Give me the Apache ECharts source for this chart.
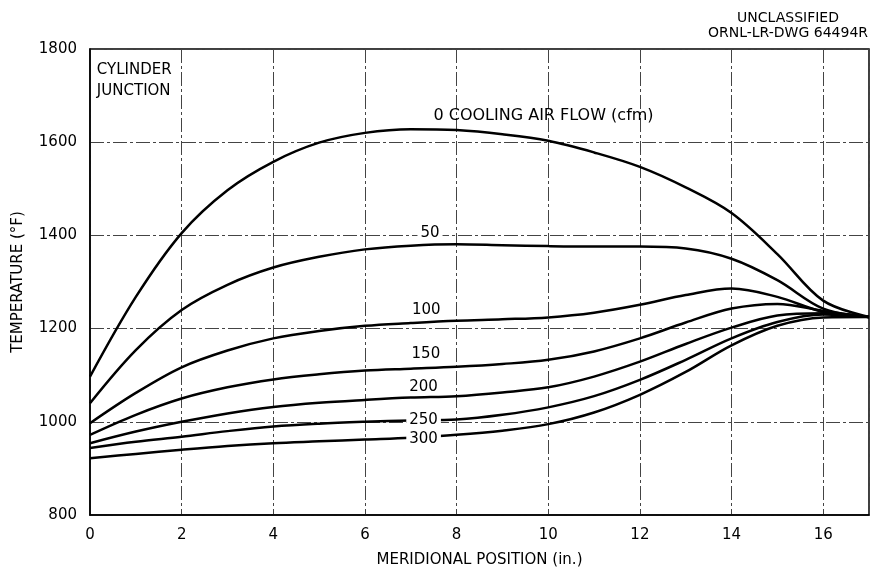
<!DOCTYPE html>
<html>
<head>
<meta charset="utf-8">
<title>Cylinder junction temperature</title>
<script src="https://cdn.jsdelivr.net/npm/echarts@6/dist/echarts.min.js"></script>
<style>
  html, body { margin: 0; padding: 0; background: #fff; }
  #chart { width: 885px; height: 573px; }
</style>
</head>
<body>
<div id="chart"></div>
<script>
// meridional position (in.)
var positions = [0, 1, 2, 3, 4, 5, 6, 7, 8, 9, 10, 11, 12, 13, 14, 15, 16, 17];

// temperature (F) for each cooling air flow (cfm)
var flow0   = [1097, 1268, 1405, 1497, 1558, 1599, 1620, 1628, 1626, 1617, 1603, 1578, 1547, 1503, 1448, 1360, 1260, 1225];
var flow50  = [1040, 1154, 1240, 1294, 1331, 1354, 1370, 1378, 1381, 1379, 1377, 1376, 1376, 1372, 1350, 1304, 1243, 1225];
var flow100 = [997, 1062, 1117, 1153, 1179, 1195, 1206, 1212, 1217, 1220, 1224, 1234, 1251, 1272, 1286, 1268, 1236, 1225];
var flow150 = [972, 1015, 1050, 1074, 1091, 1102, 1110, 1114, 1118, 1124, 1133, 1151, 1179, 1213, 1243, 1253, 1238, 1225];
var flow200 = [954, 979, 1000, 1018, 1032, 1041, 1047, 1052, 1055, 1063, 1074, 1097, 1129, 1167, 1202, 1228, 1233, 1225];
var flow250 = [944, 957, 968, 980, 990, 996, 1000, 1003, 1005, 1015, 1031, 1055, 1090, 1133, 1179, 1214, 1230, 1225];
var flow300 = [922, 931, 940, 948, 954, 958, 962, 966, 972, 981, 995, 1020, 1058, 1107, 1164, 1206, 1224, 1225];

var flowNames = ['0', '50', '100', '150', '200', '250', '300'];
var flowData = [flow0, flow50, flow100, flow150, flow200, flow250, flow300];

// where each curve is labelled [x, T]
var labelAt = [[7.43, 1656], [7.42, 1405], [7.34, 1240], [7.33, 1146], [7.28, 1075], [7.28, 1004], [7.28, 963]];
var labelText = ['0 COOLING AIR FLOW (cfm)', '50', '100', '150', '200', '250', '300'];

var FONT = 'DejaVu Sans';

var chart = echarts.init(document.getElementById('chart'));

var series = flowData.map(function (vals, i) {
    return {
        name: flowNames[i],
        type: 'line',
        data: positions.map(function (x, k) { return [x, vals[k]]; }),
        smooth: 0.35,
        showSymbol: false,
        lineStyle: { color: '#000', width: 2.5 },
        z: 3,
        markPoint: {
            symbol: 'circle',
            symbolSize: 0,
            silent: true,
            data: [{
                name: labelText[i],
                coord: labelAt[i]
            }],
            label: {
                show: true,
                position: i === 0 ? 'right' : 'inside',
                distance: 0,
                formatter: '{b}',
                color: '#000',
                fontFamily: FONT,
                fontSize: i === 0 ? 16 : 15,
                backgroundColor: i === 0 ? 'transparent' : '#fff',
                padding: [0, 3]
            }
        }
    };
});

// corner note
series.push({
    type: 'scatter',
    data: [],
    markPoint: {
        symbol: 'circle',
        symbolSize: 0,
        silent: true,
        data: [{ name: 'CYLINDER\nJUNCTION', coord: [0.15, 1733] }],
        label: {
            show: true,
            position: 'right',
            distance: 0,
            formatter: '{b}',
            color: '#000',
            fontFamily: FONT,
            fontSize: 15,
            lineHeight: 21
        }
    }
});

var option = {
    animation: false,
    backgroundColor: '#fff',
    title: {
        text: 'UNCLASSIFIED\nORNL-LR-DWG 64494R',
        left: 783,
        top: 6,
        textAlign: 'center',
        textStyle: {
            fontFamily: FONT,
            fontSize: 14,
            fontWeight: 'normal',
            color: '#000',
            lineHeight: 15
        }
    },
    grid: {
        left: 90,
        right: 16,
        top: 49,
        bottom: 58,
        show: true,
        borderColor: '#000',
        borderWidth: 1.5,
        containLabel: false
    },
    xAxis: {
        type: 'value',
        min: 0,
        max: 17,
        interval: 2,
        name: 'MERIDIONAL POSITION (in.)',
        nameLocation: 'middle',
        nameGap: 38,
        nameTextStyle: { fontFamily: FONT, fontSize: 15, color: '#000' },
        axisLine: { show: true, lineStyle: { color: '#000', width: 1.5 } },
        axisTick: { show: false },
        axisLabel: {
            margin: 13,
            fontFamily: FONT,
            fontSize: 15,
            color: '#000',
            formatter: function (v) { return v === 17 ? '' : String(v); }
        },
        splitLine: { show: true, lineStyle: { color: '#444', width: 1, type: [14, 3, 3, 3] } }
    },
    yAxis: {
        type: 'value',
        min: 800,
        max: 1800,
        interval: 200,
        name: 'TEMPERATURE (°F)',
        nameLocation: 'middle',
        nameGap: 64,
        nameTextStyle: { fontFamily: FONT, fontSize: 15, color: '#000' },
        axisLine: { show: true, lineStyle: { color: '#000', width: 1.5 } },
        axisTick: { show: false },
        axisLabel: {
            margin: 13,
            fontFamily: FONT,
            fontSize: 15,
            color: '#000',
            formatter: function (v) { return String(v); }
        },
        splitLine: { show: true, lineStyle: { color: '#444', width: 1, type: [14, 3, 3, 3] } }
    },
    series: series
};

chart.setOption(option);
</script>
</body>
</html>
